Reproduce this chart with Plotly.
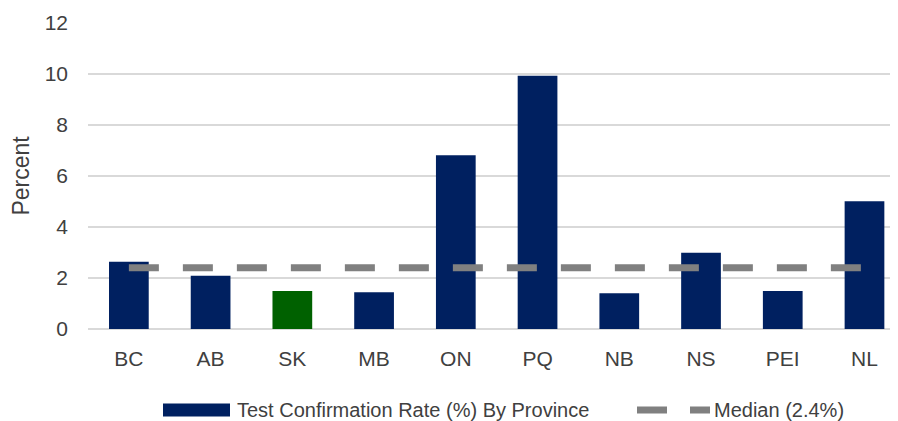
import plotly.graph_objects as go

# Datos
provinces = ['BC', 'AB', 'SK', 'MB', 'ON', 'PQ', 'NB', 'NS', 'PEI', 'NL']
confirmation_rate = [2.64, 2.09, 1.49, 1.44, 6.81, 9.93, 1.40, 2.99, 1.49, 5.01]
median_rate = 2.4
y_ticks = [0, 2, 4, 6, 8, 10, 12]

NAVY = '#002060'
GREEN = '#006100'
GREY = '#808080'
TEXT = '#404040'
FONT = 'Liberation Sans Narrow, Arial Narrow, Liberation Sans, Arial, sans-serif'

# la página deja 8px de margen, así que se descuentan aquí
OFF = 8
W, H = 898 - OFF, 421 - OFF
L, R, T, B = 88 - OFF, 0, 23 - OFF, 92


def px_x(x):
    return (x - OFF - L) / (W - L - R)


def px_y(y):
    return (H - B - (y - OFF)) / (H - T - B)


bar_colors = [GREEN if p == 'SK' else NAVY for p in provinces]

fig = go.Figure()
fig.add_trace(go.Bar(
    x=provinces,
    y=confirmation_rate,
    marker=dict(color=bar_colors, line=dict(width=0)),
    name='Test Confirmation Rate (%) By Province',
    showlegend=False
))
fig.add_trace(go.Scatter(
    x=provinces,
    y=[median_rate] * len(provinces),
    mode='lines',
    line=dict(color=GREY, width=7, dash='30px,24px'),
    name=f'Median ({median_rate}%)',
    showlegend=False
))

# Leyenda manual (símbolos anchos como en Excel)
ly = px_y(410)
fig.add_shape(type='rect', xref='paper', yref='paper',
              x0=px_x(163), x1=px_x(230), y0=px_y(403.5), y1=px_y(416.5),
              fillcolor=NAVY, line=dict(width=0))
fig.add_shape(type='line', xref='paper', yref='paper',
              x0=px_x(637), x1=px_x(710), y0=ly, y1=ly,
              line=dict(color=GREY, width=7, dash='30px,23px'))
fig.add_annotation(x=px_x(235), y=ly, xref='paper', yref='paper',
                   text='Test Confirmation Rate (%) By Province',
                   showarrow=False, xanchor='left', yanchor='middle',
                   font=dict(size=20, color=TEXT, family=FONT))
fig.add_annotation(x=px_x(712), y=ly, xref='paper', yref='paper',
                   text=f'Median ({median_rate}%)',
                   showarrow=False, xanchor='left', yanchor='middle',
                   font=dict(size=20, color=TEXT, family=FONT))

fig.update_layout(
    width=W, height=H,
    margin=dict(l=L, r=R, t=T, b=B),
    paper_bgcolor='white',
    plot_bgcolor='white',
    bargap=0.514,
    font=dict(family=FONT, size=21, color=TEXT),
    xaxis=dict(
        range=[-0.5, 9.41],
        showgrid=False,
        showline=False,
        zeroline=False,
        ticks='',
        ticklabelstandoff=15,
        tickfont=dict(size=21, color=TEXT)
    ),
    yaxis=dict(
        range=[0, 12],
        tickvals=y_ticks,
        showgrid=True,
        gridcolor='#d9d9d9',
        gridwidth=2,
        zeroline=True,
        zerolinecolor='#d9d9d9',
        zerolinewidth=2,
        showline=False,
        ticks='',
        ticklabelstandoff=19,
        tickfont=dict(size=21, color=TEXT),
        title=dict(text='Percent', standoff=10, font=dict(size=23, color=TEXT))
    )
)

fig.write_html('out.html')
